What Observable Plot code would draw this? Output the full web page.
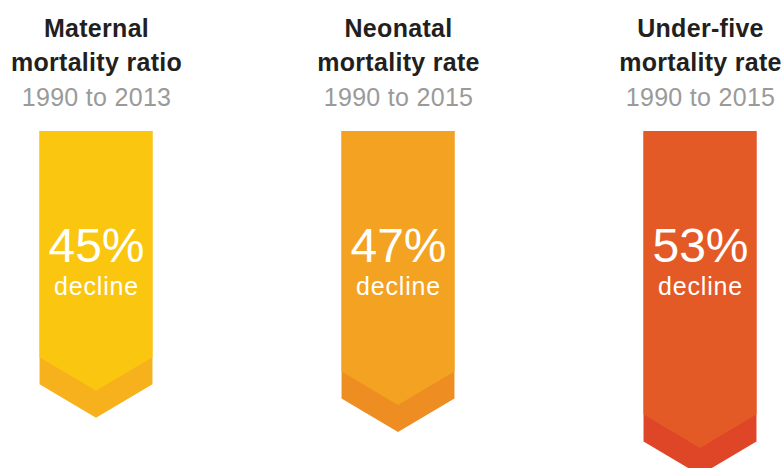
<!DOCTYPE html>
<html>
<head>
<meta charset="utf-8">
<script src="https://cdn.jsdelivr.net/npm/d3@7"></script>
<script src="https://cdn.jsdelivr.net/npm/@observablehq/plot@0.6"></script>
<style>
  html, body { margin: 0; padding: 0; background: #fff; }
  #chart svg { display: block; }
</style>
</head>
<body>
<div id="chart"></div>
<script>
// ---- data ----
const titles = ["Maternal\nmortality ratio", "Neonatal\nmortality rate", "Under-five\nmortality rate"];
const periods = ["1990 to 2013", "1990 to 2015", "1990 to 2015"];
const declines = [45, 47, 53];
const topColors = ["#FAC60F", "#F3A221", "#E35A27"];
const bandColors = ["#F6B11C", "#EE8E22", "#DF4527"];

// ---- arrow geometry (style constants, in scale units) ----
const base = 5;        // arrow shaft start on the decline scale
const hw = 0.187;      // half width of arrow (x units)
const tipDepth = 4.66; // chevron depth (y units)
const band = 3.77;     // lower band thickness (y units)

const rows = declines.map((p, i) => ({i, p, title: titles[i], period: periods[i], label: p + "%"}));

const full = [], upper = [];
rows.forEach(r => {
  [-1, 0, 1].forEach(s => {
    const drop = s === 0 ? 0 : tipDepth;
    full.push({i: r.i, x: r.i + s * hw, y1: base, y2: r.p - drop, c: bandColors[r.i]});
    upper.push({i: r.i, x: r.i + s * hw, y1: base, y2: r.p - drop - band, c: topColors[r.i]});
  });
});

const font = "'Liberation Sans', Arial, Helvetica, sans-serif";

const chart = Plot.plot({
  width: 784,
  height: 468,
  margin: 0,
  style: {fontFamily: font, background: "#fff"},
  x: {domain: [0, 2], range: [96, 700], axis: null},
  y: {domain: [base, 53], range: [131, 475], axis: null},
  marks: [
    Plot.areaY(full, {x: "x", y1: "y1", y2: "y2", z: "i", fill: "c"}),
    Plot.areaY(upper, {x: "x", y1: "y1", y2: "y2", z: "i", fill: "c"}),
    Plot.text(rows, {x: "i", text: "title", frameAnchor: "top", lineAnchor: "bottom", dy: 70, lineHeight: 1.36,
      fontSize: 25, fontWeight: "bold", fill: "#231f20", className: "t-title"}),
    Plot.text(rows, {x: "i", text: "period", frameAnchor: "top", lineAnchor: "bottom", dy: 105,
      fontSize: 25, fill: "#9a9a9a", className: "t-period"}),
    Plot.text(rows, {x: "i", text: "label", frameAnchor: "top", lineAnchor: "bottom", dy: 261,
      fontSize: 48, fill: "#ffffff", className: "t-label"}),
    Plot.text(rows, {x: "i", text: () => "decline", frameAnchor: "top", lineAnchor: "bottom", dy: 294,
      fontSize: 25, fill: "#ffffff", className: "t-decline"})
  ]
});
d3.select(chart).selectAll(".t-title").attr("letter-spacing", "0.3px");
d3.select(chart).selectAll(".t-period").attr("letter-spacing", "0.3px");
d3.select(chart).selectAll(".t-decline").attr("letter-spacing", "0.8px");
document.getElementById("chart").appendChild(chart);
</script>
</body>
</html>
